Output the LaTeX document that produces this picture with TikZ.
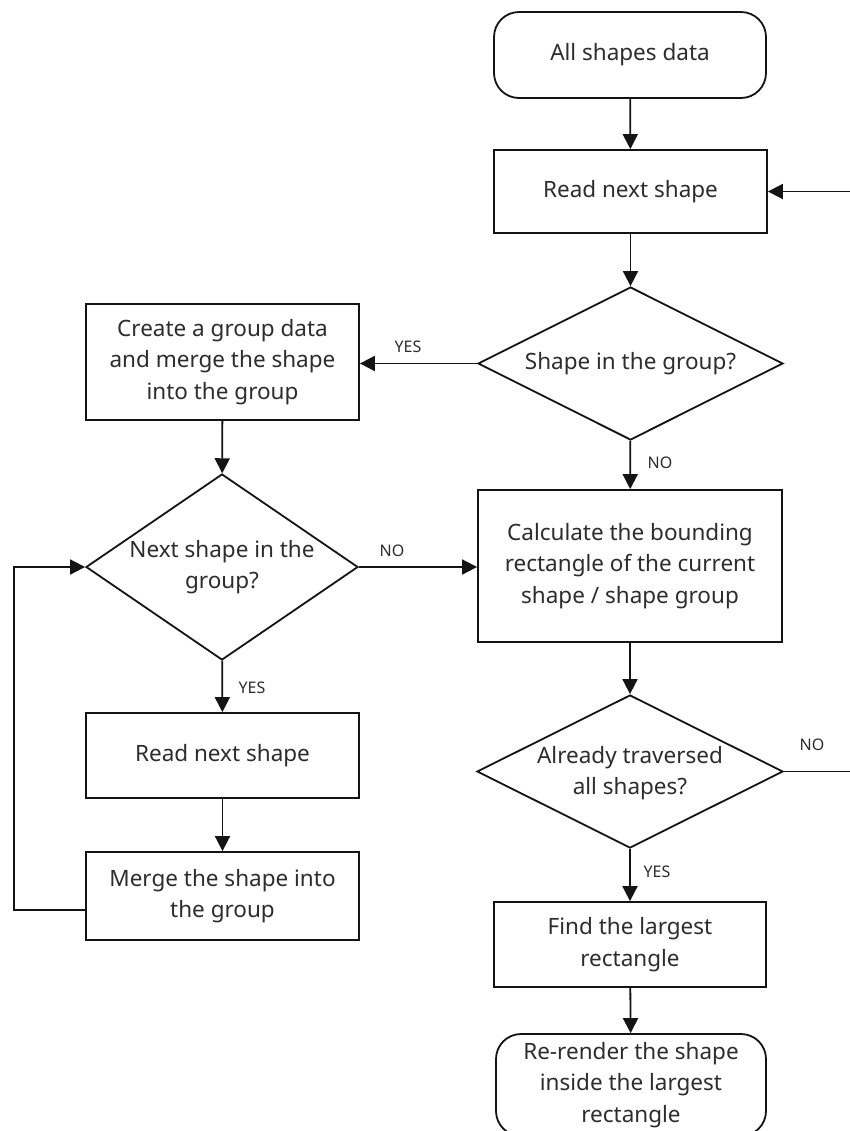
\documentclass[tikz,border=0pt]{standalone}
\usepackage{fontspec}
\setmainfont{Noto Sans}
\usetikzlibrary{shapes.geometric,arrows.meta}
\definecolor{txt}{RGB}{45,45,45}
\definecolor{ln}{RGB}{20,20,20}
\begin{document}
\begin{tikzpicture}[x=1bp,y=-1bp,
  every node/.style={text=txt},
  box/.style={draw=ln,line width=1.8bp,rectangle,inner sep=0,align=center,
    font=\fontsize{22.5bp}{31.5bp}\selectfont},
  term/.style={box,rounded corners=25bp},
  dia/.style={draw=ln,line width=1.8bp,diamond,inner sep=0},
  dtext/.style={align=center,inner sep=0,font=\fontsize{22.5bp}{31.5bp}\selectfont},
  lab/.style={inner sep=0,font=\fontsize{16bp}{18bp}\selectfont},
  conn/.style={draw=ln,line width=1.8bp,-{Triangle[length=15bp,width=15bp]}},
  plain/.style={draw=ln,line width=1.8bp}]
\useasboundingbox (0,0) rectangle (850,1131);
\fill[white] (0,0) rectangle (850,1131);

\node[term,minimum width=272bp,minimum height=86bp] (start) at (630,55) {All shapes data};
\node[box,minimum width=273bp,minimum height=83bp] (read1) at (630.5,191.5) {Read next shape};
\node[dia,minimum width=305bp,minimum height=153bp] (d1) at (630.5,363.5) {};
\node[dtext] (d1t) at (630.5,364) {Shape in the group?};
\node[box,minimum width=273bp,minimum height=116bp] (create) at (222.5,362) {Create a group data\\and merge the shape\\into the group};
\node[dia,minimum width=272bp,minimum height=186bp] (d2) at (222,567) {};
\node[dtext] (d2t) at (222,567) {Next shape in the\\group?};
\node[box,minimum width=304bp,minimum height=152bp] (calc) at (630,566) {Calculate the bounding\\rectangle of the current\\shape / shape group};
\node[dia,minimum width=306bp,minimum height=153bp] (d3) at (630,771.5) {};
\node[dtext] (d3t) at (630,773) {Already traversed\\all shapes?};
\node[box,minimum width=273bp,minimum height=85bp] (read2) at (222.5,755.5) {Read next shape};
\node[box,minimum width=273bp,minimum height=88bp] (merge) at (222.5,896) {Merge the shape into\\the group};
\node[box,minimum width=272bp,minimum height=85bp] (find) at (630,944.5) {Find the largest\\rectangle};
\node[term,minimum width=270bp,minimum height=102bp] (rer) at (631,1085) {Re-render the shape\\inside the largest\\rectangle};

\coordinate (rtop) at (852,191.5);
\coordinate (rbot) at (852,771.5);
\coordinate (lbot) at (14,910);
\coordinate (ltop) at (14,567);

\draw[conn] (start) -- (read1);
\draw[conn] (read1) -- (d1);
\draw[conn] (d1.west) -- (create.east|-d1.west);
\draw[conn] (d1) -- (calc);
\draw[conn] (create) -- (d2);
\draw[conn] (d2.east) -- (calc.west|-d2.east);
\draw[conn] (d2) -- (read2);
\draw[conn] (read2) -- (merge);
\draw[conn] (merge.west|-lbot) -- (lbot) -- (ltop) -- (d2.west);
\draw[conn] (calc) -- (d3);
\draw[conn] (d3) -- (find);
\draw[conn] (find) -- (rer);
\draw[conn] (d3.east) -- (rbot) -- (rtop) -- (read1.east);

\node[lab] (lyes1) at (408,347) {YES};
\node[lab] (lno1) at (660,463) {NO};
\node[lab] (lno2) at (392,551) {NO};
\node[lab] (lyes2) at (252,688) {YES};
\node[lab] (lno3) at (812,745) {NO};
\node[lab] (lyes3) at (657,872) {YES};
\end{tikzpicture}
\end{document}
